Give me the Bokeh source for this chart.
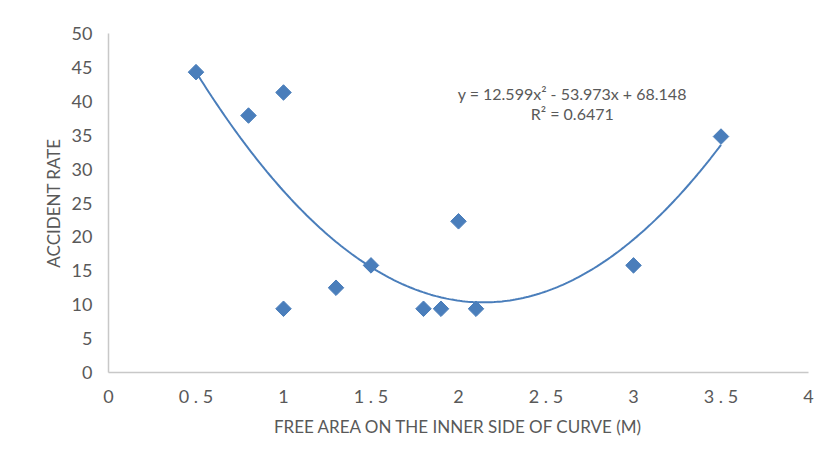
import numpy as np
from bokeh.plotting import figure
from bokeh.models import ColumnDataSource, Range1d, FixedTicker, Label
from bokeh.embed import file_html
from bokeh.resources import INLINE

# data
free_area = [0.5, 0.8, 1.0, 1.0, 1.3, 1.5, 1.8, 1.9, 2.0, 2.1, 3.0, 3.5]
accident_rate = [44.3, 37.9, 41.3, 9.4, 12.5, 15.8, 9.4, 9.4, 22.3, 9.4, 15.8, 34.8]

# trendline coefficients as printed on the chart (x^2, x, const)
trend_coeffs = [12.599, -53.973, 68.148]
trend_text = "y = 12.599x\u00b2 - 53.973x + 68.148"
r2_text = "R\u00b2 = 0.6471"

x_ticks = [0, 0.5, 1, 1.5, 2, 2.5, 3, 3.5, 4]
x_tick_labels = ["0", "0 . 5", "1", "1 . 5", "2", "2 . 5", "3", "3 . 5", "4"]
y_ticks = [0, 5, 10, 15, 20, 25, 30, 35, 40, 45, 50]

FONT = "Lato"
GREY = "#595959"
BLUE = "#4a7ebb"

p = figure(width=817, height=453, output_backend="svg", toolbar_location=None,
           x_range=Range1d(0, 4), y_range=Range1d(0, 50),
           min_border_left=108, min_border_right=9,
           min_border_top=33, min_border_bottom=81)
p.outline_line_color = None
p.xgrid.visible = False
p.ygrid.visible = False

for ax in (p.xaxis[0], p.yaxis[0]):
    ax.axis_line_color = "#c8c8c8"
    ax.axis_line_width = 1.5
    ax.major_tick_line_color = None
    ax.minor_tick_line_color = None
    ax.major_tick_out = 0
    ax.minor_tick_out = 0
    ax.major_label_text_font = FONT
    ax.major_label_text_font_size = "18px"
    ax.major_label_text_color = GREY
    ax.axis_label_text_font = FONT
    ax.axis_label_text_font_style = "normal"
    ax.axis_label_text_color = GREY

p.xaxis.ticker = FixedTicker(ticks=x_ticks)
p.xaxis.major_label_overrides = {t: l for t, l in zip(x_ticks, x_tick_labels)}
p.yaxis.ticker = FixedTicker(ticks=y_ticks)
p.xaxis.axis_label = "FREE AREA ON THE INNER SIDE OF CURVE (M)"
p.yaxis.axis_label = "ACCIDENT RATE"
p.xaxis.axis_label_text_font_size = "17px"
p.yaxis.axis_label_text_font_size = "17px"
p.xaxis.major_label_standoff = 12
p.yaxis.major_label_standoff = 16
p.xaxis.axis_label_standoff = 6
p.yaxis.axis_label_standoff = 5

# trendline evaluated from printed coefficients
xs = np.linspace(min(free_area), max(free_area), 200)
ys = np.polyval(trend_coeffs, xs)
p.line(xs, ys, line_color=BLUE, line_width=2)

src = ColumnDataSource(dict(x=free_area, y=accident_rate))
p.scatter("x", "y", source=src, marker="square", angle=np.pi / 4, size=11,
          fill_color=BLUE, line_color=BLUE)

p.add_layout(Label(x=2.65, y=41.2, text=trend_text, text_align="center",
                   text_baseline="middle", text_font=FONT,
                   text_font_size="16px", text_color=GREY))
p.add_layout(Label(x=2.65, y=38.2, text=r2_text, text_align="center",
                   text_baseline="middle", text_font=FONT,
                   text_font_size="16px", text_color=GREY))

open("out.html", "w").write(file_html(p, INLINE))
